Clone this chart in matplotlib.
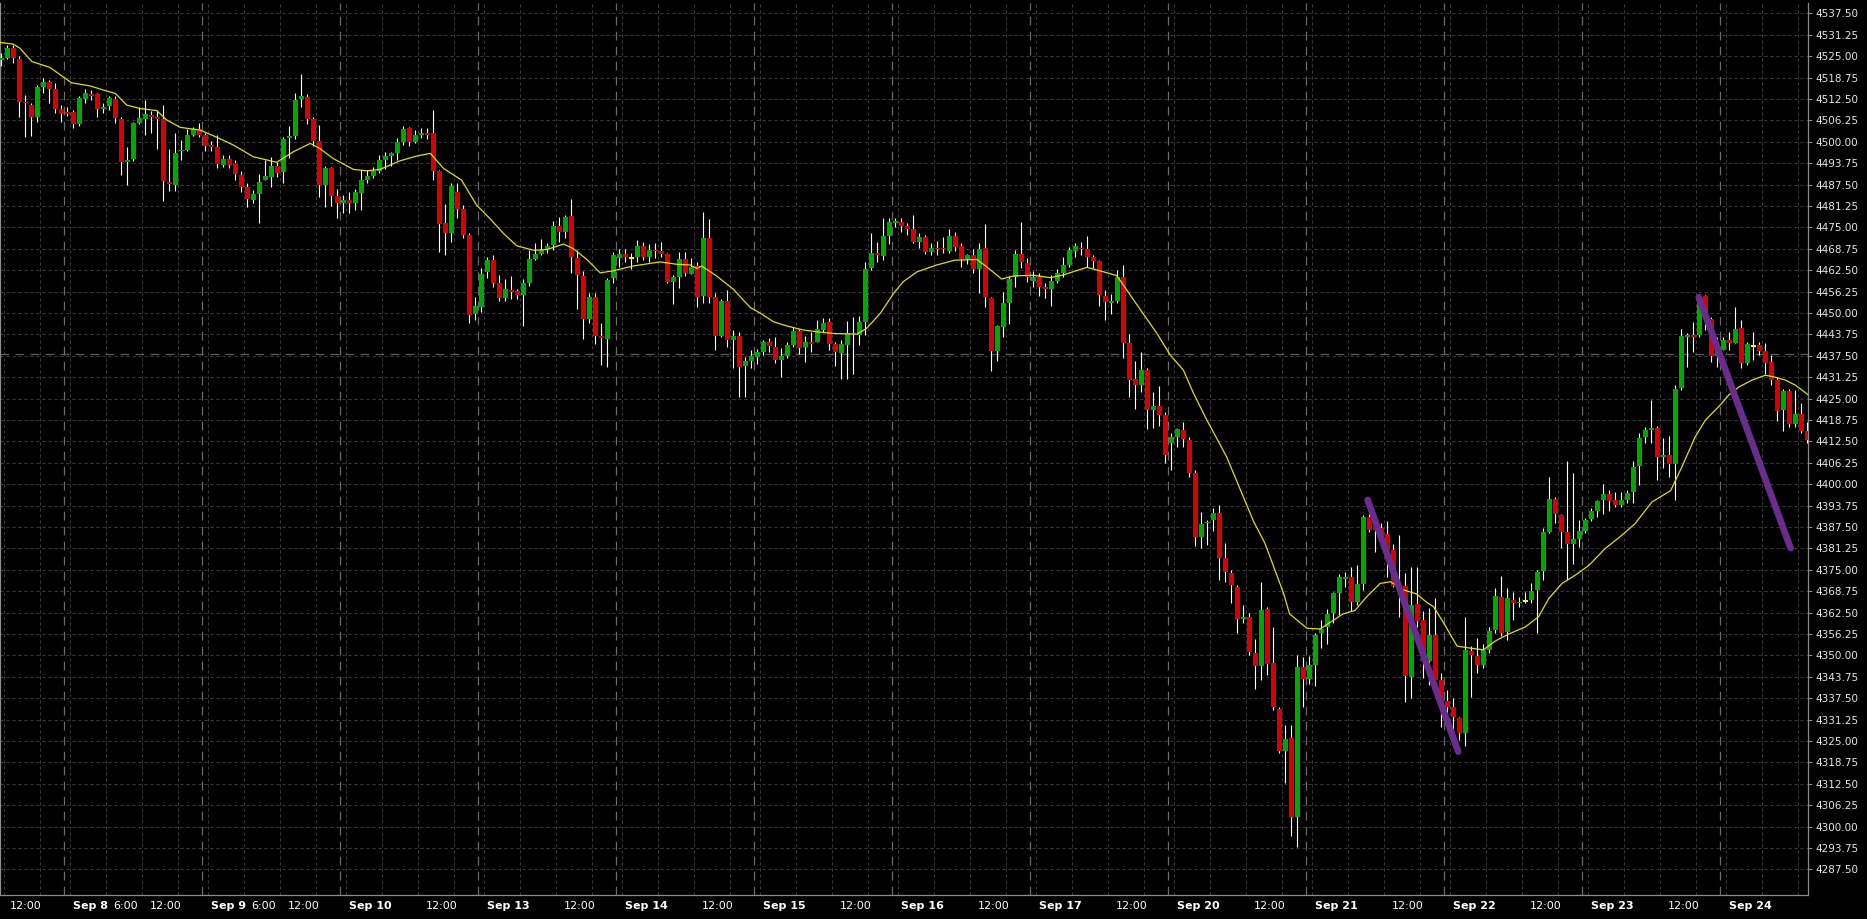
import numpy as np
import matplotlib
matplotlib.use("Agg")
import matplotlib.pyplot as plt
from matplotlib.ticker import FormatStrFormatter

# hourly candles, one per bar index (23 bars per trading day)
opens = [
    4524.0, 4524.5, 4527.4, 4524.3, 4511.7, 4510.7, 4507.1, 4516.1, 4517.4, 4515.3,
    4509.5, 4508.8, 4508.7, 4505.3, 4512.6, 4513.9, 4513.9, 4509.6, 4510.4, 4512.6,
    4506.6, 4494.2, 4494.9, 4505.4, 4506.5, 4507.7, 4507.1, 4506.7, 4488.2, 4487.4,
    4497.2, 4497.6, 4502.0, 4503.8, 4502.0, 4499.0, 4498.4, 4493.3, 4495.0, 4493.7,
    4490.3, 4486.9, 4483.1, 4484.7, 4488.9, 4489.8, 4493.0, 4491.2, 4501.1, 4501.7,
    4512.4, 4513.0, 4506.6, 4500.2, 4487.4, 4492.4, 4484.1, 4482.2, 4482.9, 4482.2,
    4485.1, 4488.8, 4490.0, 4491.3, 4494.8, 4495.8, 4496.6, 4499.9, 4503.9, 4500.0,
    4502.0, 4502.4, 4502.4, 4491.3, 4476.2, 4473.4, 4485.3, 4480.3, 4472.7, 4449.8,
    4451.8, 4462.0, 4465.4, 4458.6, 4454.4, 4456.7, 4456.3, 4455.3, 4458.8, 4465.8,
    4467.2, 4468.7, 4469.8, 4475.4, 4473.7, 4478.3, 4466.1, 4460.8, 4448.1, 4454.7,
    4443.2, 4442.4, 4460.1, 4465.9, 4467.2, 4466.1, 4466.4, 4469.5, 4466.2, 4468.5,
    4468.2, 4467.2, 4459.1, 4460.6, 4465.8, 4461.5, 4463.7, 4454.9, 4472.0, 4454.7,
    4443.3, 4453.5, 4442.1, 4443.4, 4434.5, 4436.0, 4437.2, 4438.7, 4441.4, 4439.9,
    4436.2, 4437.5, 4440.6, 4444.7, 4440.1, 4441.5, 4441.6, 4445.0, 4447.3, 4440.9,
    4438.3, 4440.6, 4444.1, 4443.6, 4447.3, 4463.1, 4467.6, 4466.7, 4472.5, 4476.2,
    4476.5, 4475.4, 4474.5, 4470.8, 4472.1, 4467.9, 4469.0, 4469.0, 4468.2, 4472.5,
    4469.5, 4465.7, 4466.9, 4462.9, 4469.1, 4454.3, 4439.0, 4446.0, 4453.0, 4460.6,
    4467.2, 4464.5, 4459.4, 4460.6, 4457.7, 4457.0, 4459.4, 4461.6, 4464.0, 4468.2,
    4469.1, 4468.8, 4466.2, 4465.2, 4454.9, 4453.0, 4453.6, 4460.4, 4441.1, 4430.6,
    4429.0, 4433.3, 4421.7, 4422.8, 4420.2, 4411.9, 4413.7, 4415.8, 4412.9, 4403.2,
    4384.5, 4388.6, 4389.4, 4391.5, 4378.3, 4374.0, 4370.1, 4360.5, 4361.2, 4350.6,
    4346.9, 4363.5, 4347.7, 4334.2, 4322.2, 4325.8, 4302.9, 4346.5, 4343.0, 4347.2,
    4356.4, 4358.2, 4362.5, 4368.3, 4372.4, 4372.8, 4365.7, 4370.9, 4390.5, 4387.4,
    4387.1, 4385.5, 4380.8, 4370.3, 4370.3, 4343.8, 4365.0, 4360.3, 4348.2, 4356.0,
    4342.8, 4336.8, 4334.8, 4331.8, 4327.4, 4351.4, 4349.8, 4347.2, 4351.6, 4357.4,
    4366.9, 4356.9, 4366.3, 4365.3, 4365.9, 4366.1, 4369.0, 4374.6, 4386.1, 4395.8,
    4390.9, 4386.1, 4382.5, 4384.1, 4386.4, 4389.7, 4392.2, 4395.3, 4397.1, 4395.3,
    4393.9, 4395.5, 4397.8, 4405.4, 4413.8, 4416.0, 4416.4, 4408.0, 4408.5, 4406.0,
    4428.2, 4443.2, 4443.5, 4443.5, 4454.9, 4448.1, 4437.4, 4439.3, 4442.1, 4441.3,
    4445.5, 4435.4, 4440.3, 4440.6, 4438.9, 4435.7, 4430.4, 4421.6, 4427.3, 4417.5,
    4420.6, 4415.6,
]
highs = [
    4525.8, 4528.1, 4528.1, 4525.1, 4513.6, 4511.2, 4516.6, 4518.5, 4518.0, 4517.0,
    4510.7, 4510.2, 4509.4, 4513.3, 4515.3, 4515.1, 4514.3, 4511.2, 4513.3, 4513.3,
    4507.3, 4498.5, 4505.8, 4510.0, 4512.2, 4509.1, 4509.2, 4510.6, 4498.0, 4502.6,
    4500.5, 4503.6, 4504.4, 4505.4, 4502.5, 4500.3, 4502.1, 4496.1, 4496.1, 4494.7,
    4491.3, 4487.8, 4485.9, 4490.6, 4494.6, 4495.6, 4494.2, 4501.5, 4504.6, 4514.3,
    4519.8, 4513.9, 4507.3, 4504.8, 4492.9, 4492.7, 4486.1, 4484.4, 4485.4, 4486.1,
    4491.7, 4491.7, 4492.7, 4496.2, 4497.0, 4497.1, 4501.0, 4504.6, 4504.2, 4503.4,
    4503.9, 4503.9, 4509.2, 4491.8, 4481.8, 4487.8, 4487.8, 4481.5, 4473.2, 4454.7,
    4463.0, 4466.4, 4466.9, 4461.0, 4459.8, 4460.8, 4457.1, 4459.8, 4468.3, 4470.5,
    4471.5, 4470.3, 4476.9, 4478.1, 4478.6, 4483.4, 4468.3, 4462.3, 4455.7, 4455.7,
    4447.1, 4460.1, 4467.9, 4468.8, 4468.8, 4467.4, 4471.3, 4470.8, 4470.1, 4470.3,
    4470.8, 4467.4, 4461.0, 4467.9, 4467.9, 4465.9, 4464.9, 4479.5, 4477.4, 4455.7,
    4454.2, 4456.7, 4445.0, 4444.5, 4437.2, 4439.1, 4439.6, 4442.1, 4442.6, 4443.0,
    4439.7, 4441.6, 4446.0, 4445.2, 4443.3, 4444.5, 4447.9, 4448.4, 4448.4, 4441.6,
    4442.1, 4447.6, 4448.9, 4449.1, 4465.0, 4473.2, 4470.8, 4477.6, 4477.6, 4477.6,
    4477.6, 4476.2, 4478.6, 4473.4, 4472.8, 4470.3, 4471.0, 4472.1, 4474.4, 4473.5,
    4470.3, 4467.2, 4468.8, 4470.3, 4475.9, 4454.7, 4446.5, 4456.2, 4460.8, 4468.4,
    4476.6, 4465.9, 4462.3, 4461.6, 4458.6, 4461.1, 4462.7, 4466.4, 4469.3, 4470.3,
    4470.8, 4472.5, 4466.9, 4465.5, 4456.7, 4455.5, 4462.5, 4464.0, 4443.8, 4436.1,
    4438.7, 4433.8, 4427.0, 4428.7, 4421.2, 4414.8, 4416.3, 4418.2, 4413.7, 4404.0,
    4392.0, 4389.5, 4393.0, 4393.9, 4382.7, 4374.9, 4370.6, 4364.7, 4362.3, 4354.7,
    4371.5, 4364.2, 4358.4, 4334.8, 4329.7, 4329.7, 4350.1, 4349.4, 4349.8, 4356.4,
    4360.3, 4363.5, 4368.6, 4373.8, 4374.2, 4375.9, 4376.4, 4391.0, 4391.7, 4389.5,
    4388.6, 4389.1, 4382.5, 4385.2, 4374.0, 4375.9, 4375.9, 4362.8, 4363.7, 4366.7,
    4344.8, 4339.9, 4337.5, 4332.1, 4361.3, 4352.6, 4355.0, 4353.3, 4358.4, 4369.6,
    4373.2, 4369.6, 4368.6, 4367.1, 4368.6, 4371.0, 4374.9, 4387.1, 4402.1, 4396.3,
    4391.4, 4406.8, 4403.3, 4389.5, 4390.0, 4392.9, 4395.3, 4400.0, 4398.3, 4397.8,
    4397.8, 4398.2, 4406.8, 4414.8, 4416.7, 4424.7, 4416.9, 4413.6, 4414.0, 4428.9,
    4445.2, 4444.2, 4447.4, 4455.2, 4455.2, 4448.9, 4443.0, 4443.0, 4444.5, 4451.8,
    4447.9, 4441.6, 4444.5, 4441.6, 4441.1, 4437.7, 4431.3, 4427.9, 4427.7, 4427.5,
    4423.8, 4418.2,
]
lows = [
    4522.1, 4524.3, 4523.1, 4507.1, 4501.5, 4501.7, 4505.8, 4514.3, 4511.2, 4508.3,
    4505.8, 4507.5, 4503.9, 4504.6, 4511.4, 4512.2, 4507.3, 4508.3, 4509.4, 4505.5,
    4490.3, 4487.3, 4494.4, 4505.2, 4502.0, 4502.4, 4497.8, 4482.7, 4485.7, 4485.7,
    4494.6, 4497.4, 4501.7, 4501.3, 4497.4, 4497.4, 4492.2, 4492.7, 4492.2, 4488.8,
    4485.4, 4481.0, 4482.2, 4476.2, 4488.8, 4486.7, 4489.8, 4487.8, 4495.1, 4500.7,
    4510.2, 4505.2, 4498.7, 4483.9, 4481.0, 4481.2, 4477.6, 4479.3, 4479.3, 4480.2,
    4480.2, 4487.8, 4489.4, 4490.8, 4492.1, 4492.9, 4494.6, 4498.9, 4498.7, 4499.5,
    4501.0, 4500.8, 4488.8, 4467.9, 4466.9, 4470.8, 4477.6, 4472.0, 4447.1, 4447.9,
    4450.3, 4460.1, 4457.6, 4453.5, 4453.5, 4454.2, 4454.2, 4446.3, 4457.8, 4465.4,
    4467.0, 4467.4, 4468.3, 4470.8, 4471.8, 4461.7, 4451.0, 4442.3, 4447.1, 4440.9,
    4434.8, 4434.3, 4458.8, 4463.5, 4464.9, 4462.7, 4464.9, 4465.4, 4464.9, 4465.9,
    4466.2, 4458.6, 4452.6, 4457.4, 4460.8, 4461.3, 4451.6, 4452.8, 4452.8, 4439.3,
    4443.0, 4440.1, 4433.8, 4425.3, 4425.3, 4433.8, 4435.2, 4437.7, 4438.7, 4435.3,
    4431.4, 4436.7, 4440.1, 4438.0, 4435.8, 4438.7, 4441.4, 4444.5, 4439.2, 4434.5,
    4430.7, 4430.6, 4432.2, 4440.6, 4443.5, 4462.5, 4465.0, 4465.5, 4470.1, 4475.0,
    4473.7, 4472.7, 4470.3, 4468.9, 4467.2, 4466.9, 4466.9, 4467.6, 4467.6, 4468.2,
    4463.3, 4464.2, 4461.7, 4455.9, 4451.6, 4433.1, 4436.0, 4442.9, 4446.8, 4457.5,
    4463.0, 4459.1, 4457.7, 4454.9, 4454.5, 4452.0, 4458.6, 4460.6, 4463.3, 4466.4,
    4466.9, 4463.3, 4463.0, 4452.0, 4447.9, 4449.7, 4453.0, 4436.7, 4425.3, 4421.8,
    4427.0, 4416.0, 4416.3, 4417.0, 4406.3, 4404.1, 4410.9, 4410.9, 4402.2, 4382.0,
    4381.3, 4382.3, 4386.4, 4372.0, 4371.5, 4365.2, 4356.4, 4359.4, 4350.1, 4340.1,
    4342.8, 4344.3, 4334.0, 4321.6, 4312.6, 4297.1, 4293.9, 4335.0, 4341.6, 4340.9,
    4352.1, 4353.3, 4359.4, 4361.8, 4370.1, 4362.8, 4364.7, 4369.1, 4386.1, 4380.3,
    4382.5, 4373.0, 4370.1, 4361.3, 4336.5, 4337.5, 4358.4, 4343.3, 4341.4, 4340.9,
    4329.2, 4330.6, 4327.7, 4325.3, 4323.4, 4337.9, 4344.8, 4346.2, 4350.6, 4356.4,
    4355.5, 4354.5, 4360.3, 4364.2, 4365.2, 4365.2, 4356.4, 4372.0, 4385.6, 4388.5,
    4381.2, 4372.0, 4376.8, 4381.7, 4385.6, 4389.3, 4390.5, 4391.4, 4392.2, 4393.4,
    4393.4, 4394.6, 4394.6, 4399.7, 4411.9, 4411.9, 4401.2, 4404.6, 4402.1, 4395.3,
    4427.6, 4434.1, 4438.6, 4443.0, 4445.0, 4435.7, 4434.3, 4439.1, 4439.1, 4441.1,
    4433.8, 4434.8, 4436.2, 4437.7, 4432.3, 4428.9, 4418.5, 4415.6, 4416.6, 4416.7,
    4414.8, 4411.9,
]
closes = [
    4524.5, 4527.4, 4524.5, 4511.7, 4511.2, 4507.3, 4516.1, 4517.4, 4515.5, 4509.6,
    4508.2, 4508.2, 4505.3, 4512.8, 4514.2, 4513.4, 4509.6, 4510.0, 4512.8, 4507.0,
    4494.2, 4494.8, 4505.4, 4507.0, 4508.2, 4507.3, 4506.7, 4488.6, 4487.8, 4496.6,
    4497.7, 4502.0, 4503.8, 4502.0, 4498.8, 4498.4, 4493.5, 4495.0, 4493.2, 4490.5,
    4486.9, 4483.3, 4484.7, 4488.2, 4490.1, 4493.0, 4490.9, 4500.8, 4501.5, 4512.2,
    4513.3, 4506.6, 4500.3, 4487.4, 4492.4, 4484.2, 4482.2, 4483.0, 4482.0, 4485.3,
    4488.8, 4490.1, 4491.3, 4494.7, 4495.8, 4496.6, 4500.0, 4503.8, 4500.0, 4502.0,
    4502.4, 4502.0, 4491.3, 4475.9, 4473.4, 4487.0, 4480.3, 4472.7, 4449.4, 4452.0,
    4461.5, 4465.4, 4458.8, 4454.4, 4456.9, 4456.2, 4455.3, 4458.6, 4465.6, 4467.2,
    4468.3, 4469.5, 4475.4, 4473.7, 4478.1, 4466.2, 4461.0, 4448.1, 4454.7, 4443.4,
    4442.7, 4459.6, 4466.9, 4467.2, 4466.4, 4466.1, 4469.5, 4466.2, 4468.3, 4468.0,
    4467.2, 4459.1, 4460.6, 4465.8, 4461.7, 4463.5, 4454.7, 4472.0, 4454.7, 4443.3,
    4453.5, 4442.1, 4443.2, 4434.3, 4436.0, 4437.4, 4438.6, 4441.6, 4440.4, 4436.2,
    4437.4, 4440.6, 4444.7, 4439.8, 4441.6, 4441.0, 4445.2, 4447.1, 4440.9, 4438.6,
    4440.9, 4444.0, 4443.8, 4447.3, 4462.8, 4467.6, 4466.8, 4472.5, 4476.5, 4476.8,
    4475.5, 4474.5, 4470.8, 4472.1, 4467.9, 4469.0, 4468.6, 4468.6, 4472.5, 4469.3,
    4465.7, 4466.9, 4462.9, 4468.8, 4454.7, 4439.0, 4446.2, 4452.8, 4459.8, 4467.2,
    4465.0, 4460.6, 4460.6, 4457.7, 4456.9, 4459.3, 4461.6, 4464.0, 4468.4, 4469.5,
    4468.6, 4466.4, 4465.2, 4455.2, 4453.3, 4453.4, 4460.6, 4441.3, 4430.4, 4429.0,
    4433.3, 4421.7, 4422.8, 4420.2, 4408.5, 4413.7, 4416.0, 4413.1, 4403.2, 4384.5,
    4388.4, 4389.0, 4391.5, 4378.3, 4374.2, 4370.4, 4360.5, 4361.2, 4351.1, 4346.9,
    4363.3, 4347.5, 4334.8, 4322.1, 4325.5, 4302.9, 4346.5, 4343.2, 4347.2, 4356.0,
    4357.6, 4362.1, 4368.3, 4372.8, 4372.8, 4365.7, 4370.9, 4390.5, 4386.6, 4386.6,
    4385.2, 4380.8, 4370.3, 4369.5, 4344.0, 4364.7, 4360.1, 4348.2, 4356.0, 4342.8,
    4336.8, 4334.8, 4331.9, 4327.4, 4351.6, 4350.1, 4347.2, 4351.6, 4357.2, 4367.3,
    4356.6, 4366.7, 4365.3, 4365.6, 4365.9, 4368.8, 4374.4, 4386.1, 4395.8, 4391.2,
    4386.1, 4382.5, 4384.1, 4386.4, 4389.5, 4392.2, 4395.1, 4397.1, 4395.1, 4393.9,
    4395.5, 4397.3, 4405.1, 4413.6, 4415.8, 4416.4, 4408.0, 4408.4, 4406.0, 4427.9,
    4443.2, 4443.5, 4443.0, 4454.9, 4448.4, 4437.4, 4439.3, 4442.1, 4441.3, 4445.2,
    4435.4, 4440.9, 4440.3, 4438.9, 4435.4, 4430.4, 4421.4, 4427.3, 4417.5, 4420.4,
    4415.6, 4412.9,
]

# moving average (bar index, value)
ma_idx = [
    -0.2, 2, 3.1, 5.1, 8.1, 11.7, 14.8, 17, 19, 20.9, 23.1, 25.9, 27.6, 29.8,
    33.1, 35.9, 38.7, 42, 45.9, 48.7, 51.5, 53.1, 55.3, 58.7, 60.9, 63.1, 66.4,
    69.2, 71.5, 73.7, 76.7, 79.2, 81.4, 83.7, 85.9, 88.7, 90.9, 93.7, 95.3, 97.6,
    99.8, 102, 105.3, 109.8, 112.6, 114.8, 115.9, 116.7, 119.2, 122, 124.8, 126.5,
    128.7, 130.9, 133.7, 135.9, 138.7, 142.6, 144.2, 146.5, 148.7, 150.3, 152.6,
    155.9, 158.9, 162.6, 164.2, 166.7, 168.7, 172, 174.8, 177, 180.9, 183.1, 185.9,
    188.7, 192.6, 194.8, 197, 198.7, 200.9, 204.2, 208.7, 210.6, 213.7, 214.7,
    217.6, 219.8, 221.7, 223.6, 225.6, 227.6, 229.8, 231.5, 233.7, 235.9, 237.6,
    238.7, 240.4, 242.6, 244.8, 247, 249, 251.2, 254, 256.2, 257.9, 260.1, 262.3,
    264.6, 267.3, 270.1, 272.3, 275.1, 278.2, 280.1, 282.3, 284, 286.2, 287.9,
    289.6, 291.8, 294, 295.7, 297.3, 299, 301.2,
]
ma_val = [
    4529.0, 4528.5, 4527.3, 4523.4, 4521.7, 4517.2, 4516.3, 4515.1, 4514.1, 4510.7,
    4509.7, 4509.1, 4506.3, 4504.2, 4503.4, 4501.3, 4499.0, 4495.6, 4494.0, 4497.1,
    4499.5, 4498.0, 4495.1, 4491.9, 4491.5, 4491.9, 4494.4, 4495.8, 4496.6, 4492.2,
    4488.8, 4481.5, 4477.6, 4473.2, 4469.6, 4468.3, 4468.5, 4470.1, 4468.8, 4465.6,
    4461.7, 4462.3, 4463.7, 4464.9, 4464.2, 4464.0, 4463.0, 4463.7, 4460.8, 4456.9,
    4451.6, 4449.9, 4447.4, 4446.2, 4445.0, 4444.5, 4444.0, 4443.8, 4445.5, 4449.9,
    4455.7, 4459.1, 4462.0, 4464.0, 4465.4, 4465.6, 4463.5, 4459.9, 4460.8, 4461.0,
    4460.3, 4461.1, 4463.3, 4462.3, 4460.9, 4453.8, 4444.0, 4437.7, 4433.3, 4426.5,
    4418.75, 4408.0, 4389.1, 4382.7, 4368.1, 4362.1, 4357.9, 4357.7, 4359.9, 4362.1,
    4363.1, 4367.2, 4371.0, 4371.5, 4369.1, 4367.9, 4365.4, 4364.2, 4359.4, 4352.7,
    4352.1, 4351.6, 4354.2, 4356.2, 4358.3, 4361.3, 4366.6, 4371.0, 4373.4, 4376.3,
    4381.2, 4385.1, 4388.5, 4394.8, 4398.1, 4405.1, 4413.8, 4418.7, 4422.6, 4426.0,
    4428.4, 4430.4, 4431.8, 4431.2, 4430.4, 4428.9, 4426.0,
]

# hand-drawn trend lines (bar index, price)
trend_idx = [[227.7, 242.8], [282.9, 298.2]]
trend_val = [[4395.4, 4321.9], [4454.6, 4381.3]]
ref_level = 4438.1

day_labels = ["Sep 8", "Sep 9", "Sep 10", "Sep 13", "Sep 14", "Sep 15", "Sep 16",
              "Sep 17", "Sep 20", "Sep 21", "Sep 22", "Sep 23", "Sep 24"]
six_oclock_days = ["Sep 8", "Sep 9"]
first_day_start = 10.5
bars_per_day = 23

price_ticks = np.arange(4287.5, 4537.6, 6.25)

o = np.array(opens)
h = np.array(highs)
l = np.array(lows)
c = np.array(closes)
idx = np.arange(len(o))

fig = plt.figure(figsize=(18.67, 9.19), dpi=100, facecolor="black")
ax = fig.add_axes([0, 0.0261, 0.9684, 0.9706], facecolor="black")
ax.set_xlim(-0.22, 301.1)
ax.set_ylim(4280.0, 4540.5)

# horizontal grid
for p in price_ticks:
    ax.axhline(p, color="#3c3c3c", lw=0.72, ls=(0, (3, 3)), zorder=1)

# vertical grid and day separators
day_starts = [first_day_start + bars_per_day * i for i in range(-1, len(day_labels))]
for d in day_starts:
    if d > 0:
        ax.axvline(d, color="#6a6a6a", lw=0.9, ls=(0, (7, 5)), zorder=1.5)
    for off in (1, 7, 13, 19):
        ax.axvline(d + off, color="#3c3c3c", lw=0.72, ls=(0, (3, 3)), zorder=1)

ax.axhline(ref_level, color="#5c5c5c", lw=0.9, ls=(0, (7, 5)), zorder=1.5)

# candles
colors = np.where(c > o, "#00a800", np.where(c < o, "#d80000", "#ffff00"))
ax.vlines(idx, l, h, color="white", lw=0.8, zorder=3)
body_h = np.abs(c - o)
tiny = body_h < 0.5
body_bottom = np.where(tiny, (o + c) / 2 - 0.25, np.minimum(o, c))
body_h = np.where(tiny, 0.5, body_h)
ax.bar(idx, body_h, bottom=body_bottom, width=0.8, color=colors, lw=0, zorder=4)

# moving average
ax.plot(ma_idx, ma_val, color="#e0e000", lw=0.9, zorder=5)

# trend lines
for tx, ty in zip(trend_idx, trend_val):
    ax.plot(tx, ty, color="#6a2d8e", lw=4.8, solid_capstyle="round", zorder=6)

# axes styling
for side in ("left", "right", "bottom", "top"):
    ax.spines[side].set_color("#8c8c8c")
    ax.spines[side].set_linewidth(0.9)
ax.spines["top"].set_visible(False)

ax.yaxis.tick_right()
ax.set_yticks(price_ticks)
ax.yaxis.set_major_formatter(FormatStrFormatter("%.2f"))
ax.tick_params(axis="y", colors="#8c8c8c", labelcolor="#e6e6e6",
               labelsize=7.5, length=3, width=0.8, pad=2)
ax.set_xticks([])

# time axis labels
trans = ax.get_xaxis_transform()
label_y = -0.0125
ax.text(day_starts[0] + 13 + 1.0, label_y, "12:00", transform=trans,
        color="white", fontsize=8, ha="left", va="center")
for name, d in zip(day_labels, day_starts[1:]):
    ax.text(d + 1.5, label_y, name, transform=trans, color="white",
            fontsize=8, fontweight="bold", ha="left", va="center")
    if name in six_oclock_days:
        ax.text(d + 7 + 1.2, label_y, "6:00", transform=trans,
                color="white", fontsize=8, ha="left", va="center")
    if d + 13 < 295:
        ax.text(d + 13 + 1.2, label_y, "12:00", transform=trans,
                color="white", fontsize=8, ha="left", va="center")

fig.savefig("out.png", dpi=100, facecolor="black")
